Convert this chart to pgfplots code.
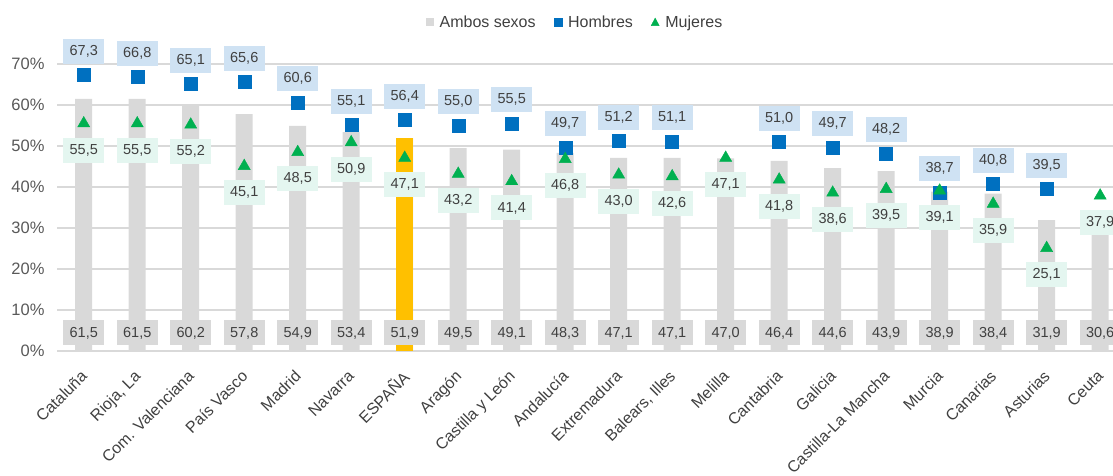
\documentclass[border=0pt]{standalone}
\usepackage{fontspec}
\setmainfont{Liberation Sans}
\usepackage{pgfplots}
\usepackage{pgfplotstable}
\pgfplotsset{compat=1.18}

\definecolor{barGray}{HTML}{D9D9D9}
\definecolor{espOrange}{HTML}{FFC000}
\definecolor{homBlue}{HTML}{0070C0}
\definecolor{mujGreen}{HTML}{00B050}
\definecolor{homBox}{HTML}{CFE2F3}
\definecolor{mujBox}{HTML}{E4F6F0}
\definecolor{txtGray}{HTML}{404040}
\definecolor{tickGray}{HTML}{595959}

% i = posicion, amb = ambos sexos, hom = hombres, muj = mujeres
\pgfplotstableread{
i amb hom muj
0 61.5 67.3 55.5
1 61.5 66.8 55.5
2 60.2 65.1 55.2
3 57.8 65.6 45.1
4 54.9 60.6 48.5
5 53.4 55.1 50.9
6 51.9 56.4 47.1
7 49.5 55.0 43.2
8 49.1 55.5 41.4
9 48.3 49.7 46.8
10 47.1 51.2 43.0
11 47.1 51.1 42.6
12 47.0 nan 47.1
13 46.4 51.0 41.8
14 44.6 49.7 38.6
15 43.9 48.2 39.5
16 38.9 38.7 39.1
17 38.4 40.8 35.9
18 31.9 39.5 25.1
19 30.6 nan 37.9
}\datos

\newcommand{\lab}{\pgfmathprintnumber[fixed,fixed zerofill,precision=1,use comma]{\pgfplotspointmeta}}

\begin{document}
\begin{tikzpicture}
\begin{axis}[
  name=ax,
  width=1056pt, height=287pt, scale only axis,
  xmin=-0.5, xmax=19.24, ymin=0, ymax=70,
  clip=false,
  axis line style={draw=none},
  ymajorgrids, grid style={barGray, line width=1.3pt},
  major tick length=0pt,
  /pgf/number format/assume math mode=true,
  ytick={0,10,...,70},
  yticklabels={0\%,10\%,20\%,30\%,40\%,50\%,60\%,70\%},
  yticklabel style={font=\fontsize{16.5}{19}\selectfont, text=tickGray, xshift=-9pt},
  xtick={0,...,19},
  xticklabels={Cataluña,{Rioja, La},Com. Valenciana,País Vasco,Madrid,Navarra,ESPAÑA,Aragón,Castilla y León,Andalucía,Extremadura,{Balears, Illes},Melilla,Cantabria,Galicia,Castilla-La Mancha,Murcia,Canarias,Asturias,Ceuta},
  xticklabel style={xshift=-4pt, yshift=-18pt, rotate=45, anchor=north east, inner sep=0pt, font=\fontsize{16}{18}\selectfont, text=txtGray},
  legend style={at={(0.4905,1.146)}, anchor=center, draw=none, fill=none,
    legend columns=-1, font=\fontsize{16}{18}\selectfont, text=txtGray,
    /tikz/every odd column/.append style={column sep=4pt},
    /tikz/every even column/.append style={column sep=16pt}},
  every node near coord/.append style={font=\fontsize{14.5}{17}\selectfont, text=txtGray,
    inner sep=0pt, minimum width=41pt, minimum height=25pt},
]
% barras ambos sexos
\addplot[ybar, bar width=17pt, bar shift=0pt, fill=barGray, draw=none,
  legend image code/.code={\fill[barGray] (0pt,-4pt) rectangle (8pt,4pt);}]
  table[x=i, y=amb] \datos;
\addlegendentry{Ambos sexos}
% ESPAÑA
\addplot[ybar, bar width=17pt, bar shift=0pt, fill=espOrange, draw=none, forget plot]
  coordinates {(6,51.9)};
% etiquetas ambos sexos
\addplot[only marks, mark=none, forget plot, point meta=explicit,
  nodes near coords={\lab},
  nodes near coords align={center},
  every node near coord/.append style={fill=barGray, anchor=center}]
  table[x=i, y expr=4.4, meta=amb] \datos;
% hombres
\addplot[only marks, mark=square*, mark size=6.5pt, color=homBlue, point meta=explicit,
  nodes near coords={\lab},
  every node near coord/.append style={fill=homBox, anchor=south, yshift=11pt},
  legend image code/.code={\fill[homBlue] (0pt,-4pt) rectangle (8pt,4pt);}]
  table[x=i, y=hom, meta=hom] \datos;
\addlegendentry{Hombres}
% mujeres
\addplot[only marks, mark=triangle*, mark size=7pt, color=mujGreen, point meta=explicit,
  nodes near coords={\lab},
  every node near coord/.append style={fill=mujBox, anchor=north, yshift=-14pt},
  legend image code/.code={\fill[mujGreen] (0pt,-3.5pt) -- (8pt,-3.5pt) -- (4pt,4pt) -- cycle;}]
  table[x=i, y=muj, meta=muj] \datos;
\addlegendentry{Mujeres}
\end{axis}
\pgfresetboundingbox
\path[use as bounding box] ([shift={(-57pt,-125pt)}]ax.south west) rectangle ([shift={(1056pt,351pt)}]ax.south west);
\end{tikzpicture}
\end{document}
